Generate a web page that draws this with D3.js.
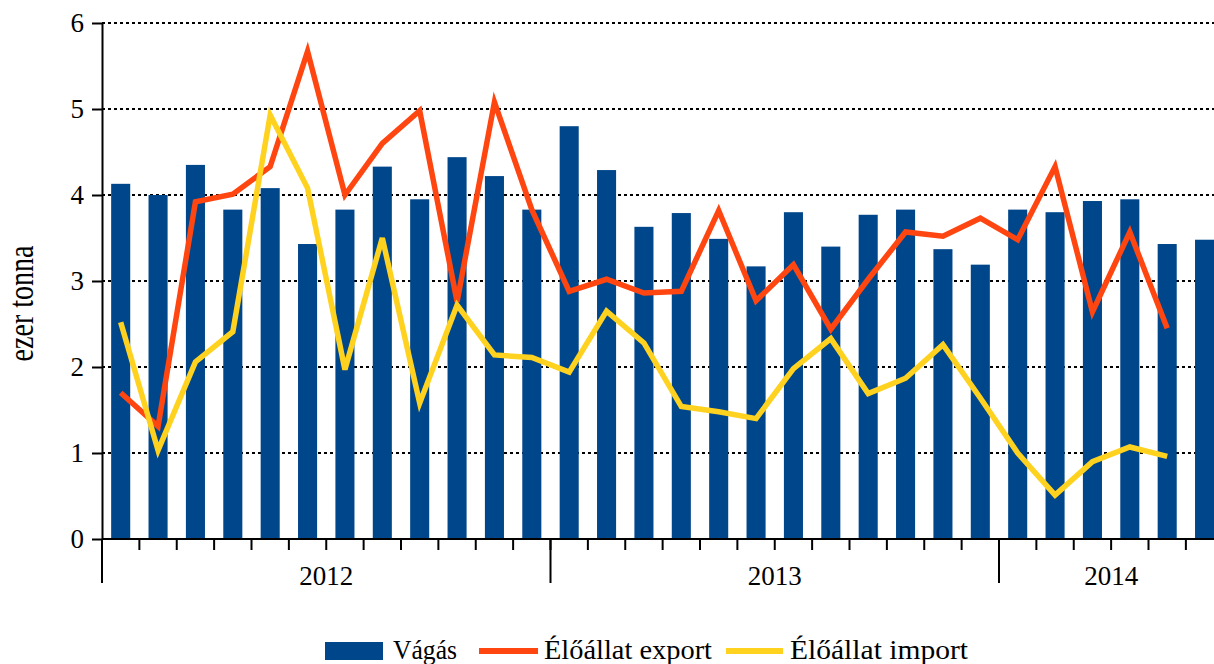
<!DOCTYPE html>
<html>
<head>
<meta charset="utf-8">
<script src="https://cdn.jsdelivr.net/npm/d3@7"></script>
<style>
  body { margin: 0; background: #fff; }
  svg { display: block; }
  text { font-family: "Liberation Serif", "Times New Roman", serif; fill: #000; }
</style>
</head>
<body>
<svg id="chart" width="1214" height="664"></svg>
<script>
// havi adatok, ezer tonna
const months = [
  "2012-01","2012-02","2012-03","2012-04","2012-05","2012-06",
  "2012-07","2012-08","2012-09","2012-10","2012-11","2012-12",
  "2013-01","2013-02","2013-03","2013-04","2013-05","2013-06",
  "2013-07","2013-08","2013-09","2013-10","2013-11","2013-12",
  "2014-01","2014-02","2014-03","2014-04","2014-05","2014-06"
];
const years = ["2012", "2013", "2014"];
const yTicks = [0, 1, 2, 3, 4, 5, 6];

const vagas = [
  4.13, 4.00, 4.35, 3.83, 4.08, 3.43, 3.83, 4.33, 3.95, 4.44, 4.22, 3.83,
  4.80, 4.29, 3.63, 3.79, 3.49, 3.17, 3.80, 3.40, 3.77, 3.83, 3.37, 3.19,
  3.83, 3.80, 3.93, 3.95, 3.43, 3.48
];
const eloallatExport = [
  1.70, 1.31, 3.92, 4.01, 4.33, 5.67, 4.00, 4.60, 4.98, 2.76, 5.08, 3.83,
  2.88, 3.02, 2.86, 2.88, 3.82, 2.77, 3.19, 2.44, 3.02, 3.57, 3.52, 3.73,
  3.48, 4.33, 2.64, 3.57, 2.45
];
const eloallatImport = [
  2.52, 1.03, 2.06, 2.41, 4.93, 4.08, 1.97, 3.50, 1.58, 2.72, 2.14, 2.11,
  1.94, 2.65, 2.28, 1.54, 1.48, 1.40, 1.98, 2.33, 1.69, 1.87, 2.26, 1.64,
  1.00, 0.51, 0.90, 1.07, 0.96
];

const colors = { vagas: "#00468b", export: "#ff4611", import: "#ffd21f" };

const W = 1214;
const plotLeft = 102, plotTop = 23, plotBottom = 539;
const step = 37.375;

const svg = d3.select("#chart");

const x = d3.scaleBand()
  .domain(months)
  .range([plotLeft, plotLeft + months.length * step])
  .paddingInner(0.49)
  .paddingOuter(0.245);

const y = d3.scaleLinear().domain([0, 6]).range([plotBottom, plotTop]);

// rácsvonalak (pontozott)
svg.append("g")
  .selectAll("line")
  .data(yTicks.filter(t => t > 0))
  .join("line")
  .attr("x1", plotLeft).attr("x2", W)
  .attr("y1", d => y(d)).attr("y2", d => y(d))
  .attr("stroke", "#000")
  .attr("stroke-width", 2)
  .attr("stroke-dasharray", "3,3");

// oszlopok
svg.append("g")
  .selectAll("rect")
  .data(vagas)
  .join("rect")
  .attr("x", (d, i) => x(months[i]))
  .attr("y", d => y(d))
  .attr("width", x.bandwidth())
  .attr("height", d => y(0) - y(d))
  .attr("fill", colors.vagas);

// vonalak
const line = d3.line()
  .x((d, i) => x(months[i]) + x.bandwidth() / 2)
  .y(d => y(d));

svg.append("path")
  .datum(eloallatExport)
  .attr("d", line)
  .attr("fill", "none")
  .attr("stroke", colors.export)
  .attr("stroke-width", 5.5)
  .attr("stroke-linejoin", "miter");

svg.append("path")
  .datum(eloallatImport)
  .attr("d", line)
  .attr("fill", "none")
  .attr("stroke", colors.import)
  .attr("stroke-width", 5.5)
  .attr("stroke-linejoin", "miter");

// y tengely
const yAxis = svg.append("g")
  .attr("transform", `translate(${plotLeft},0)`)
  .call(d3.axisLeft(y).tickValues(yTicks).tickFormat(d3.format("d"))
    .tickSize(10).tickPadding(8).tickSizeOuter(0))
  .attr("font-family", null)
  .attr("font-size", null);
yAxis.select(".domain").attr("stroke", "#000").attr("stroke-width", 2);
yAxis.selectAll(".tick line").attr("stroke", "#000").attr("stroke-width", 2);
yAxis.selectAll(".tick text")
  .style("font-family", '"Liberation Serif", "Times New Roman", serif')
  .style("font-size", "27px")
  .attr("fill", "#000");

svg.append("text")
  .attr("transform", `translate(33,${(245 + 362) / 2}) rotate(-90) scale(1,1.25)`)
  .attr("text-anchor", "middle")
  .style("font-size", "28px")
  .text("ezer tonna");

// x tengely
svg.append("line")
  .attr("x1", plotLeft).attr("x2", W)
  .attr("y1", plotBottom).attr("y2", plotBottom)
  .attr("stroke", "#000").attr("stroke-width", 2);

const gap = (x.step() - x.bandwidth()) / 2;
const boundaries = d3.range(1, months.length).map(i => x(months[i]) - gap);
svg.append("g")
  .selectAll("line")
  .data(boundaries)
  .join("line")
  .attr("x1", d => d).attr("x2", d => d)
  .attr("y1", plotBottom).attr("y2", plotBottom + 11)
  .attr("stroke", "#000").attr("stroke-width", 2);

const yearInfo = years.map(yr => {
  const idx = months.map((m, i) => [m, i]).filter(([m]) => m.startsWith(yr)).map(([, i]) => i);
  const x0 = x(months[idx[0]]) - gap;
  const x1 = x0 + idx.length * x.step();
  return { yr, x0, x1 };
});

svg.append("g")
  .selectAll("line")
  .data(yearInfo)
  .join("line")
  .attr("x1", d => d.x0).attr("x2", d => d.x0)
  .attr("y1", plotBottom).attr("y2", plotBottom + 44)
  .attr("stroke", "#000").attr("stroke-width", 2);

svg.append("g")
  .selectAll("text")
  .data(yearInfo)
  .join("text")
  .attr("x", d => (d.x0 + d.x1) / 2)
  .attr("y", 585)
  .attr("text-anchor", "middle")
  .style("font-size", "27px")
  .text(d => d.yr);

// jelmagyarázat
const legendItems = [
  { name: "Vágás", type: "rect", color: colors.vagas, sx: 325, sw: 58, tx: 393, tw: 64 },
  { name: "Élőállat export", type: "line", color: colors.export, sx: 479, sw: 59, tx: 544, tw: 168 },
  { name: "Élőállat import", type: "line", color: colors.import, sx: 726, sw: 57, tx: 790, tw: 178 }
];
const legend = svg.append("g");
legendItems.forEach(it => {
  if (it.type === "rect") {
    legend.append("rect")
      .attr("x", it.sx).attr("y", 642)
      .attr("width", it.sw).attr("height", 18)
      .attr("fill", it.color);
  } else {
    legend.append("line")
      .attr("x1", it.sx).attr("x2", it.sx + it.sw)
      .attr("y1", 651).attr("y2", 651)
      .attr("stroke", it.color).attr("stroke-width", 6);
  }
  legend.append("text")
    .attr("x", it.tx).attr("y", 659)
    .attr("textLength", it.tw)
    .attr("lengthAdjust", "spacingAndGlyphs")
    .style("font-size", "27px")
    .text(it.name);
});
</script>
</body>
</html>
